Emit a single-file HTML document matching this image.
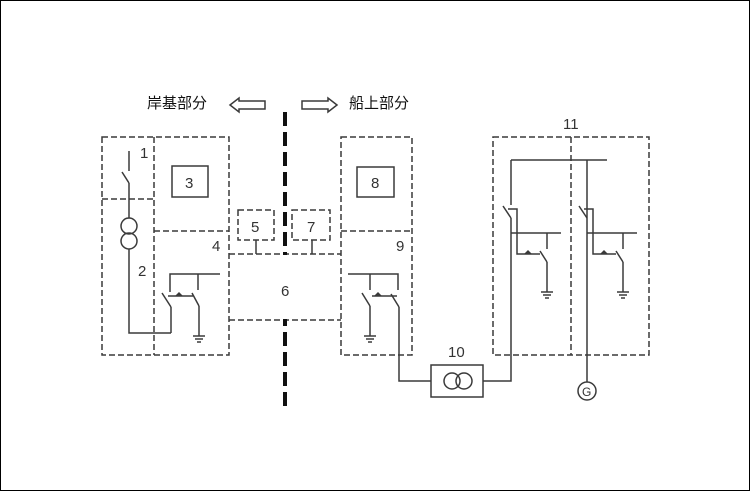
<!DOCTYPE html>
<html><head><meta charset="utf-8"><style>
html,body{margin:0;padding:0;background:#fff}
svg{display:block}
text{font-family:"Liberation Sans","DejaVu Sans",sans-serif;fill:#333}
.cj{font-family:"Liberation Sans","Noto Sans CJK SC",sans-serif;fill:#111;font-size:15px}
</style></head><body>
<svg width="750" height="491" viewBox="0 0 750 491" xmlns="http://www.w3.org/2000/svg">
<rect x="0.5" y="0.5" width="749" height="490" fill="#fff" stroke="#000"/>
<g fill="none" stroke="#3a3a3a" stroke-width="1.5">
<g stroke-dasharray="6,3">
<rect x="102" y="137" width="127" height="218"/>
<line x1="154" y1="137" x2="154" y2="355"/>
<line x1="102" y1="199" x2="154" y2="199"/>
<line x1="154" y1="231" x2="229" y2="231"/>
<rect x="238" y="210" width="36" height="30"/>
<rect x="292" y="210" width="38" height="30"/>
<line x1="229" y1="254" x2="341" y2="254"/>
<line x1="229" y1="320" x2="341" y2="320"/>
<rect x="341" y="137" width="71" height="218"/>
<line x1="341" y1="231" x2="412" y2="231"/>
<rect x="493" y="137" width="156" height="218"/>
<line x1="571" y1="137" x2="571" y2="355"/>
</g>
<rect x="172" y="166" width="36" height="31"/>
<rect x="357" y="167" width="37" height="30"/>
<line x1="256" y1="240" x2="256" y2="254"/>
<line x1="312" y1="240" x2="312" y2="254"/>
<line x1="129" y1="151" x2="129" y2="171"/>
<line x1="122" y1="172" x2="129" y2="183"/>
<line x1="129" y1="183" x2="129" y2="218"/>
<circle cx="129" cy="226" r="8"/>
<circle cx="129" cy="241" r="8"/>
<polyline points="129,249 129,333 171,333"/>
<polyline points="170,292 170,274 220,274"/>
<line x1="198" y1="274" x2="198" y2="290"/>
<line x1="162" y1="293" x2="171" y2="307"/>
<line x1="171" y1="307" x2="171" y2="333"/>
<line x1="168" y1="296" x2="193" y2="296"/>
<line x1="192" y1="293" x2="199" y2="306"/>
<line x1="199" y1="306" x2="199" y2="336"/>
<line x1="193" y1="336" x2="205" y2="336"/><line x1="195" y1="339" x2="203" y2="339"/><line x1="197" y1="342" x2="201" y2="342"/>
<polyline points="348,274 398,274 398,290"/>
<line x1="370" y1="274" x2="370" y2="290"/>
<line x1="362" y1="293" x2="370" y2="306"/>
<line x1="370" y1="306" x2="370" y2="336"/>
<line x1="364" y1="336" x2="376" y2="336"/><line x1="366" y1="339" x2="374" y2="339"/><line x1="368" y1="342" x2="372" y2="342"/>
<line x1="372" y1="296" x2="397" y2="296"/>
<line x1="391" y1="294" x2="399" y2="307"/>
<polyline points="399,307 399,381 431,381"/>
<rect x="431" y="365" width="52" height="32"/>
<circle cx="452" cy="381" r="8"/><circle cx="464" cy="381" r="8"/>
<polyline points="483,381 511,381 511,218"/>
<line x1="511" y1="160" x2="607" y2="160"/>
<line x1="587" y1="160" x2="587" y2="382"/>
<circle cx="587" cy="391" r="9"/>
<line x1="511" y1="160" x2="511" y2="205"/>
<g id="f">
<line x1="503" y1="206" x2="511" y2="218"/>
<polyline points="508,209 517,209 517,254 540,254"/>
<line x1="511" y1="233" x2="561" y2="233"/>
<line x1="547" y1="233" x2="547" y2="249"/>
<line x1="540" y1="251" x2="547" y2="262"/>
<line x1="547" y1="262" x2="547" y2="292"/>
<line x1="541" y1="292" x2="553" y2="292"/><line x1="543" y1="295" x2="551" y2="295"/><line x1="545" y1="298" x2="549" y2="298"/>
</g>
<g transform="translate(76,0)">
<line x1="503" y1="206" x2="511" y2="218"/>
<polyline points="508,209 517,209 517,254 540,254"/>
<line x1="511" y1="233" x2="561" y2="233"/>
<line x1="547" y1="233" x2="547" y2="249"/>
<line x1="540" y1="251" x2="547" y2="262"/>
<line x1="547" y1="262" x2="547" y2="292"/>
<line x1="541" y1="292" x2="553" y2="292"/><line x1="543" y1="295" x2="551" y2="295"/><line x1="545" y1="298" x2="549" y2="298"/>
</g>
<polygon points="230,105 239,98 239,101 265,101 265,109 239,109 239,112"/>
<polygon points="337,105 328,98 328,101 302,101 302,109 328,109 328,112"/>
</g>
<g fill="#3a3a3a">
<polygon points="175,296 179,292 183,296"/>
<polygon points="374,296 378,292 382,296"/>
<polygon points="524,254 528,250 532,254"/>
<polygon points="600,254 604,250 608,254"/>
</g>
<line x1="285" y1="112" x2="285" y2="412" stroke="#111" stroke-width="4" stroke-dasharray="14,6"/>
<rect x="282" y="255" width="6" height="64" fill="#fff"/>
<text class="cj" x="147" y="108">岸基部分</text>
<text class="cj" x="349" y="108">船上部分</text>
<g font-size="15">
<text x="140" y="158">1</text>
<text x="138" y="276">2</text>
<text x="185" y="188">3</text>
<text x="212" y="251">4</text>
<text x="251" y="232">5</text>
<text x="281" y="296">6</text>
<text x="307" y="232">7</text>
<text x="371" y="188">8</text>
<text x="396" y="251">9</text>
<text x="448" y="357">10</text>
<text x="563" y="129">11</text>
<text x="582" y="396" font-size="12">G</text>
</g>
</svg>
</body></html>
